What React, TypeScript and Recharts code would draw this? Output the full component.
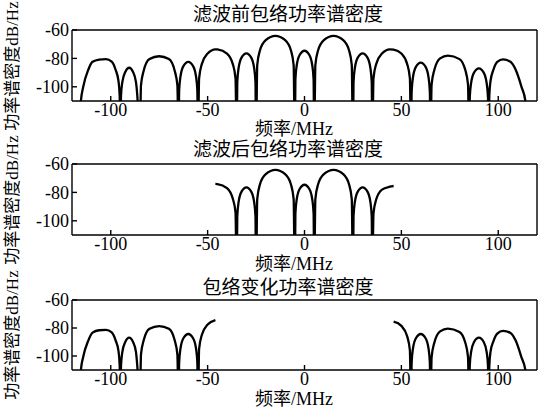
import React from 'react';
import { LineChart, Line, XAxis, YAxis } from 'recharts';

const N = null;

// frequency grid (MHz), grouped by spectral lobe
const freqMHz = [
  -116, -115.4, -114.2, -111.6, -109.4, -106, -102.5, -99.5, -97.5, -96, -95.4,
  -95, -94.7, -94, -92.5, -90.5, -88.5, -87, -86.3,
  -85, -84.4, -83, -80, -75, -70, -67, -65.6,
  -65, -64.7, -64, -62.5, -60, -57.5, -56, -55.3,
  -55, -54.4, -53, -50, -46, -45, -40, -37, -35.6,
  -35, -34.7, -34, -32.5, -30, -27.5, -26, -25.3,
  -25, -24.4, -23, -20, -15, -10, -7, -5.6,
  -5, -4.7, -4, -2.5, 0, 2.5, 4, 4.7,
  5, 5.6, 7, 10, 15, 20, 23, 24.4,
  25, 25.3, 26, 27.5, 30, 32.5, 34, 34.7,
  35, 35.6, 37, 40, 44, 46, 50, 53, 54.4,
  55, 55.3, 56, 57.5, 60, 62.5, 64, 64.7,
  65, 65.6, 67, 70, 74, 80, 83, 84.4,
  85, 85.3, 86, 87.5, 90, 92.5, 94, 94.7,
  95, 95.4, 96, 97.5, 99.5, 102.5, 106.3, 109, 112, 114, 114.6,
];

// 滤波前 (before filtering), dB/Hz
const psdBefore = [
  -140, -110, -100, -88, -82.4, -80.8, -80.5, -82.3, -88, -96, -106,
  -140, -106, -96.5, -89.5, -86.6, -89.5, -96.5, -106,
  -140, -99, -88.7, -80.5, -78.5, -80.5, -88.7, -99,
  -140, -103, -92.6, -85.4, -82.4, -85.4, -92.6, -103,
  -140, -94, -84, -76.6, -73.6, -73.7, -76.6, -84, -94,
  -140, -97, -86.7, -79.5, -76.5, -79.5, -86.7, -97,
  -140, -84.7, -74.4, -67.2, -64.2, -67.2, -74.4, -84.7,
  -140, -95, -84.8, -77.6, -74.6, -77.6, -84.8, -95,
  -140, -84.7, -74.4, -67.2, -64.2, -67.2, -74.4, -84.7,
  -140, -97, -86.7, -79.5, -76.5, -79.5, -86.7, -97,
  -140, -94, -84, -76.6, -73.6, -73.8, -76.6, -84, -94,
  -140, -103.5, -93.2, -86, -83, -86, -93.2, -103.5,
  -140, -98.5, -88.2, -80, -78, -80.5, -88.2, -98.5,
  -140, -107.5, -97.2, -90, -87, -90, -97.2, -107.5,
  -140, -106, -96, -88, -82.5, -80.7, -82.4, -88, -100, -110, -140,
];

// 滤波后 (after filtering), dB/Hz
const psdAfter = [
  N, N, N, N, N, N, N, N, N, N, N,
  N, N, N, N, N, N, N, N,
  N, N, N, N, N, N, N, N,
  N, N, N, N, N, N, N, N,
  N, N, N, N, -74, -74.1, -77, -84.5, -94,
  -140, -97, -86.7, -79.5, -76.5, -79.5, -86.7, -97,
  -140, -84.7, -74.4, -67.2, -64.2, -67.2, -74.4, -84.7,
  -140, -95, -84.8, -77.6, -74.6, -77.6, -84.8, -95,
  -140, -84.7, -74.4, -67.2, -64.2, -67.2, -74.4, -84.7,
  -140, -97, -86.7, -79.5, -76.5, -79.5, -86.7, -97,
  -140, -95, -85, -78, -76, -75.5, N, N, N,
  N, N, N, N, N, N, N, N,
  N, N, N, N, N, N, N, N,
  N, N, N, N, N, N, N, N,
  N, N, N, N, N, N, N, N, N, N, N,
];

// 包络变化 (envelope change), dB/Hz
const psdChange = [
  -140, -110, -100.5, -89, -83.3, -81.6, -81.4, -83.2, -88.8, -96.5, -106.5,
  -140, -107, -97, -90, -86.9, -90, -97, -107,
  -140, -99, -88.8, -80.6, -78.6, -80.6, -88.8, -99,
  -140, -105, -94.5, -87.3, -84.3, -87.3, -94.5, -105,
  -140, -95, -85, -77.5, -74.3, N, N, N, N,
  N, N, N, N, N, N, N, N,
  N, N, N, N, N, N, N, N,
  N, N, N, N, N, N, N, N,
  N, N, N, N, N, N, N, N,
  N, N, N, N, N, N, N, N,
  N, N, N, N, N, -75.5, -78.5, -86, -96,
  -140, -105, -94.5, -87.3, -84.3, -87.3, -94.5, -105,
  -140, -100.8, -90.5, -82.4, -80.4, -82.8, -90.5, -100.8,
  -140, -107, -97, -90, -86.9, -90, -97, -107,
  -140, -107, -97, -89.5, -84, -82, -83.5, -89, -101, -110, -140,
];

const xTicks = [-100, -50, 0, 50, 100];
const yTicks = [-100, -80, -60];
const titles = ['滤波前包络功率谱密度', '滤波后包络功率谱密度', '包络变化功率谱密度'];
const xLabel = '频率/MHz';
const yLabel = '功率谱密度dB/Hz';

const rows = freqMHz.map((f, i) => ({
  f,
  before: psdBefore[i],
  after: psdAfter[i],
  change: psdChange[i],
}));

const FONT = "'Liberation Serif', 'Noto Sans CJK SC', serif";

const panels = [
  { key: 'before', top: 0, height: 136, mb: 5, titleY: 13.5, labelY: 129, yLabelY: 65.5 },
  { key: 'after', top: 134, height: 136, mb: 5, titleY: 149, labelY: 264, yLabelY: 199.5 },
  { key: 'change', top: 270, height: 142, mb: 12, titleY: 287, labelY: 399, yLabelY: 335 },
];

const tickStyle = { fill: '#000', fontSize: 18, fontFamily: FONT };
const axisLine = { stroke: '#000', strokeWidth: 1.4 };

function Panel({ p }: { p: any }) {
  return (
    <div style={{ position: 'absolute', left: 0, top: p.top, width: 538, height: p.height }}>
      <LineChart
        width={538}
        height={p.height}
        data={rows}
        margin={{ top: 29, right: 0, bottom: p.mb, left: 32 }}
      >
        <XAxis
          dataKey="f"
          type="number"
          domain={[-120, 120]}
          ticks={xTicks}
          allowDataOverflow
          height={30}
          tickSize={-5}
          tickMargin={7}
          tick={tickStyle}
          axisLine={axisLine}
          tickLine={axisLine}
          interval={0}
        />
        <XAxis
          xAxisId="top"
          dataKey="f"
          type="number"
          orientation="top"
          domain={[-120, 120]}
          ticks={xTicks}
          allowDataOverflow
          height={1}
          tickSize={-5}
          tick={false}
          axisLine={axisLine}
          tickLine={axisLine}
          interval={0}
        />
        <YAxis
          type="number"
          domain={[-110, -60]}
          ticks={yTicks}
          allowDataOverflow
          width={40}
          tickSize={-5}
          tickMargin={8}
          tick={tickStyle}
          axisLine={axisLine}
          tickLine={axisLine}
          interval={0}
        />
        <YAxis
          yAxisId="right"
          orientation="right"
          type="number"
          domain={[-110, -60]}
          ticks={yTicks}
          allowDataOverflow
          width={1}
          tickSize={-5}
          tick={false}
          axisLine={axisLine}
          tickLine={axisLine}
          interval={0}
        />
        <Line
          type="monotone"
          dataKey={p.key}
          stroke="#000"
          strokeWidth={2.3}
          dot={false}
          activeDot={false}
          isAnimationActive={false}
        />
      </LineChart>
    </div>
  );
}

const textBase: React.CSSProperties = {
  position: 'absolute',
  fontFamily: FONT,
  color: '#000',
  whiteSpace: 'nowrap',
  lineHeight: 1,
};

export default function App() {
  return (
    <div style={{ position: 'absolute', left: 0, top: 0, width: 538, height: 412, background: '#fff', overflow: 'hidden' }}>
      {panels.map((p) => (
        <Panel key={p.key} p={p} />
      ))}
      {panels.map((p, i) => (
        <div
          key={'t' + i}
          style={{ ...textBase, left: 288, top: p.titleY, fontSize: 19, transform: 'translate(-50%, -50%)' }}
        >
          {titles[i]}
        </div>
      ))}
      {panels.map((p, i) => (
        <div
          key={'x' + i}
          style={{ ...textBase, left: 294, top: p.labelY, fontSize: 18, transform: 'translate(-50%, -50%)' }}
        >
          {xLabel}
        </div>
      ))}
      {panels.map((p, i) => (
        <div
          key={'y' + i}
          style={{ ...textBase, left: 12, top: p.yLabelY, fontSize: 17, transform: 'translate(-50%, -50%) rotate(-90deg)' }}
        >
          {yLabel}
        </div>
      ))}
    </div>
  );
}
